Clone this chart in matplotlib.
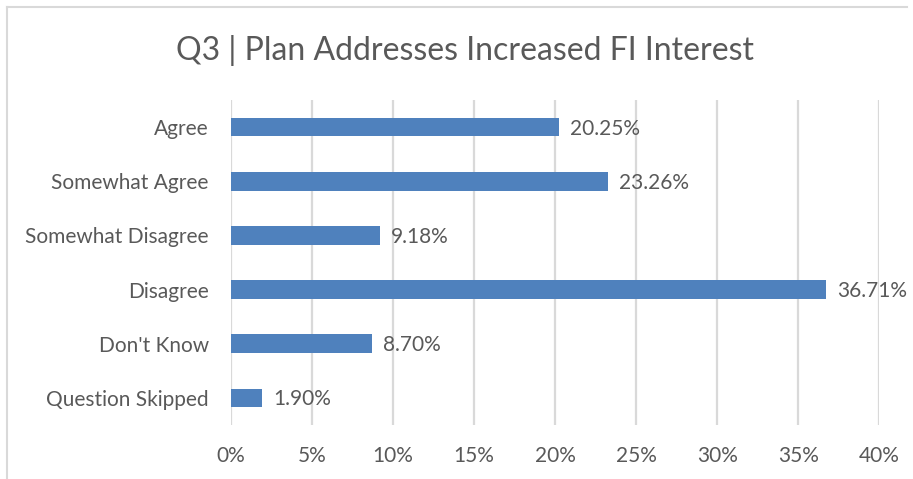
import matplotlib.pyplot as plt
from matplotlib.lines import Line2D

categories = ["Agree", "Somewhat Agree", "Somewhat Disagree", "Disagree",
              "Don't Know", "Question Skipped"]
values = [20.25, 23.26, 9.18, 36.71, 8.70, 1.90]
ticks = [0, 5, 10, 15, 20, 25, 30, 35, 40]

plt.rcParams['font.family'] = ['Lato', 'DejaVu Sans']
txt = "#595959"

fig = plt.figure(figsize=(9.13, 4.79), dpi=100)
ax = fig.add_axes([0.253, 0.113, 0.710, 0.678])

y = list(range(len(categories)))
ax.barh(y, values, height=0.34, color="#4F81BD", zorder=3)
for yi, v in zip(y, values):
    ax.text(v + 0.7, yi + 0.03, f"{v:.2f}%", va="center", ha="left",
            fontsize=15, color=txt, zorder=4)

ax.set_ylim(len(categories) - 0.5, -0.5)
ax.set_xlim(0, 40)
ax.set_yticks(y)
ax.set_yticklabels(categories, fontsize=15, color=txt)
ax.set_xticks(ticks)
ax.set_xticklabels([f"{t}%" for t in ticks], fontsize=15, color=txt)
ax.tick_params(length=0, axis="x", pad=15)
ax.tick_params(length=0, axis="y", pad=16)
ax.grid(axis="x", color="#D9D9D9", linewidth=1.6, zorder=0)
for s in ax.spines.values():
    s.set_visible(False)

fig.text(0.509, 0.895, "Q3 | Plan Addresses Increased FI Interest",
         ha="center", va="center", fontsize=23, color=txt)

# chart border (left and top)
fig.add_artist(Line2D([0.008, 0.008], [0, 0.986], color="#D9D9D9", lw=1.5))
fig.add_artist(Line2D([0.008, 0.993], [0.986, 0.986], color="#D9D9D9", lw=1.5))

fig.savefig("out.png", dpi=100)
